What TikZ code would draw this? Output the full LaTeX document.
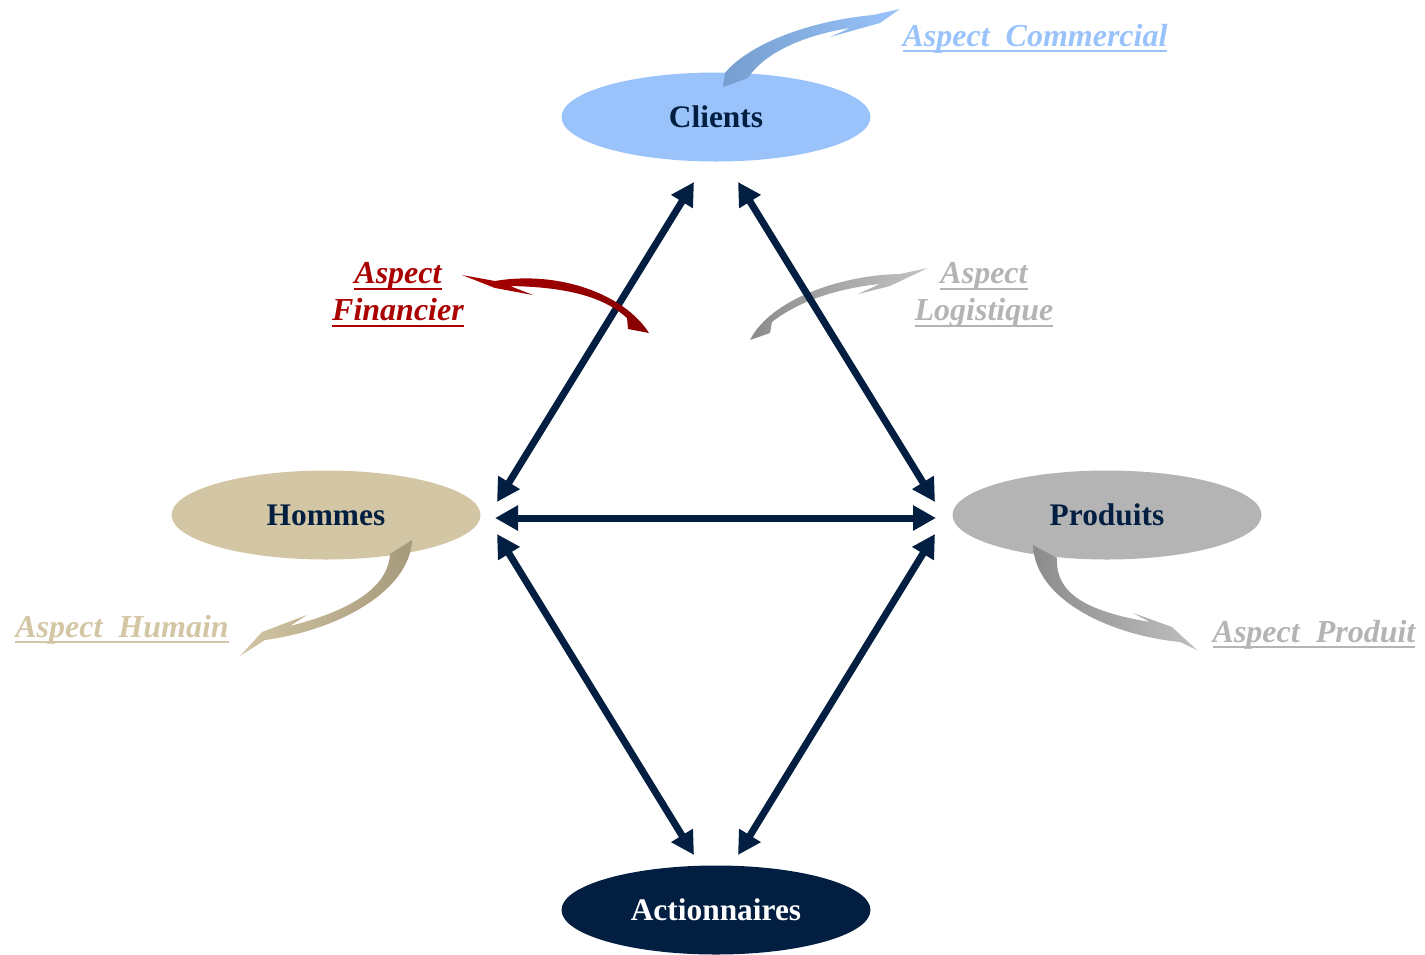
\documentclass[tikz,border=0pt]{standalone}
\usepackage{fontspec}
\setmainfont{Liberation Serif}
\usetikzlibrary{shapes.geometric,arrows.meta}

\definecolor{cliblue}{RGB}{153,195,250}
\definecolor{clidark}{RGB}{118,158,206}
\definecolor{homtan}{RGB}{211,198,164}
\definecolor{homdark}{RGB}{166,154,124}
\definecolor{progray}{RGB}{180,180,180}
\definecolor{prodark}{RGB}{140,140,140}
\definecolor{navy}{RGB}{2,31,66}
\definecolor{finred}{RGB}{170,0,0}
\definecolor{findark}{RGB}{136,0,0}

\newcommand{\aspul}[1]{\setbox0=\hbox{#1}\rlap{\rule[-3.2pt]{\wd0}{1pt}}\box0}

\begin{document}
\begin{tikzpicture}[x=0.5pt,y=-0.5pt,
  ell/.style={ellipse,minimum width=154.5pt,minimum height=44.5pt,inner sep=0pt,
    font=\fontsize{15.7}{18}\selectfont\bfseries,text=navy},
  link/.style={navy,line width=3.5pt,{Triangle[length=11.5pt,width=12pt]}-{Triangle[length=11.5pt,width=12pt]}},
  aspect/.style={font=\fontsize{16}{18.5}\selectfont\bfseries\itshape,inner sep=0pt,align=center}]
\useasboundingbox (0,0) rectangle (1425,954);

%Shape: Ellipse
\node[ell,fill=cliblue] (cli) at (716,117) {Clients};
\node[ell,fill=homtan] (hom) at (326,515) {Hommes};
\node[ell,fill=progray] (pro) at (1107,515) {Produits};
\node[ell,fill=navy,text=white] (act) at (716,910) {Actionnaires};

%Curve Lines: Aspect Logistique
\shade[left color=prodark,right color=progray!80] (928,268) -- (900,274) .. controls (840,275) and (770,300) .. (750,340) -- (770,333) -- (772,322) .. controls (800,300) and (840,288) .. (880,284) -- (858,294) -- (890,286) -- cycle;

%Straight Lines
\coordinate (cliL) at (694,182);
\coordinate (cliR) at (738,182);
\coordinate (homT) at (497,502);
\coordinate (homR) at (495,518);
\coordinate (homB) at (497,534);
\coordinate (proT) at (935,502);
\coordinate (proL) at (936,518);
\coordinate (proB) at (935,534);
\coordinate (actL) at (694,855);
\coordinate (actR) at (738,855);
\draw[link] (cliL) -- (homT);
\draw[link] (cliR) -- (proT);
\draw[link] (homR) -- (proL);
\draw[link] (homB) -- (actL);
\draw[link] (proB) -- (actR);

%Curve Lines: Aspect Commercial
\shade[left color=clidark,right color=cliblue] (723,87) -- (725,73) .. controls (745,48) and (800,22) .. (873,15) -- (900,9) -- (880,23) -- (830,37) -- (850,28) .. controls (805,35) and (765,52) .. (748,78) -- cycle;

%Curve Lines: Aspect Financier
\shade[left color=finred,right color=findark] (462,275) -- (495,281) .. controls (560,270) and (625,295) .. (649,333) -- (628,329) -- (627,318) .. controls (605,298) and (570,287) .. (510,286) -- (533,295) -- (495,288) -- cycle;

%Curve Lines: Aspect Humain
\shade[left color=homtan,right color=homdark] (412,540) .. controls (410,590) and (340,630) .. (265,640) -- (240,656) -- (262,632) -- (307,615) -- (290,626) .. controls (345,612) and (388,590) .. (390,554) -- cycle;

%Curve Lines: Aspect Produit
\shade[left color=prodark,right color=progray!85] (1033,545) .. controls (1035,600) and (1110,635) .. (1180,642) -- (1197,650) -- (1172,627) -- (1133,613) -- (1150,622) .. controls (1090,612) and (1055,595) .. (1057,558) -- cycle;

% Text Node
\node[aspect,text=cliblue,anchor=base] (comm) at (1035,46) {\aspul{Aspect\ \ Commercial}};
% Text Node
\node[aspect,text=finred] (fin) at (398,295) {\aspul{Aspect}\\\aspul{Financier}};
% Text Node
\node[aspect,text=progray] (logi) at (984,295) {\aspul{Aspect}\\\aspul{Logistique}};
% Text Node
\node[aspect,text=homtan,anchor=base] (hum) at (122,637) {\aspul{Aspect\ \ Humain}};
% Text Node
\node[aspect,text=progray,anchor=base] (prod) at (1314,642) {\aspul{Aspect\ \ Produit}};

\end{tikzpicture}
\end{document}
